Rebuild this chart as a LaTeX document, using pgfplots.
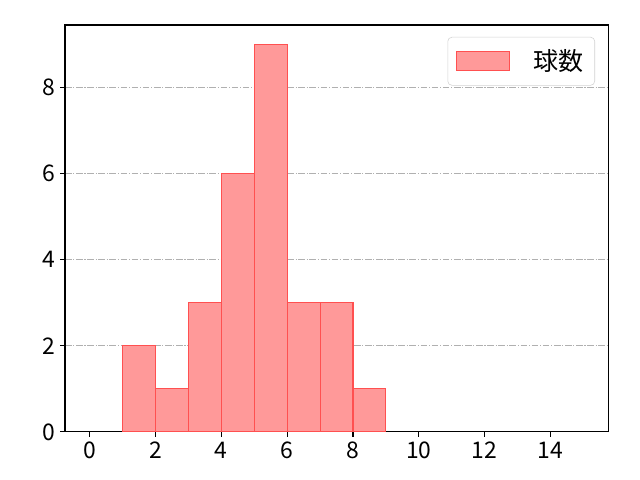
\documentclass[border=0pt]{standalone}
\usepackage{fontspec}
\setmainfont{Noto Sans CJK JP}
\usepackage{pgfplots}
\pgfplotsset{compat=1.18}
\definecolor{barfill}{RGB}{255,153,153}
\definecolor{baredge}{RGB}{255,80,80}
\definecolor{gridc}{RGB}{176,176,176}
\begin{document}
\begin{tikzpicture}
\begin{axis}[
  name=ax,
  scale only axis,
  width=391pt, height=293pt,
  xmin=-0.75, xmax=15.75,
  ymin=0, ymax=9.45,
  xtick={0,2,...,14},
  ytick={0,2,4,6,8},
  tick align=outside,
  tick pos=left,
  major tick length=3.5pt,
  every tick/.style={black, line width=0.8pt},
  axis line style={line width=0.8pt},
  ymajorgrids,
  major grid style={gridc, line width=0.8pt, dash pattern=on 4.8pt off 1.2pt on 0.8pt off 1.2pt},
  tick label style={font=\fontsize{16.5}{19}\selectfont},
  /pgf/number format/assume math mode=true,
  legend style={at={(1,1)}, anchor=north east, xshift=-9.4pt, yshift=-8.6pt,
    draw=gray!35, rounded corners=3pt, font=\fontsize{18}{21}\selectfont,
    inner xsep=6pt, inner ysep=7pt},
  legend image code/.code={\draw[#1, sharp corners] (0pt,-6.8pt) rectangle (38pt,6.8pt);},
  legend cell align=left,
]
\addplot[ybar interval, fill=barfill, draw=baredge, line width=0.8pt] coordinates {
  (1,2) (2,1) (3,3) (4,6) (5,9) (6,3) (7,3) (8,1) (9,0)
};
\addlegendentry{\hspace{15pt}球数}
\end{axis}
\path ([shift={(-46.8pt,-34.6pt)}]ax.south west) rectangle ([shift={(23pt,18pt)}]ax.north east);
\end{tikzpicture}
\end{document}
